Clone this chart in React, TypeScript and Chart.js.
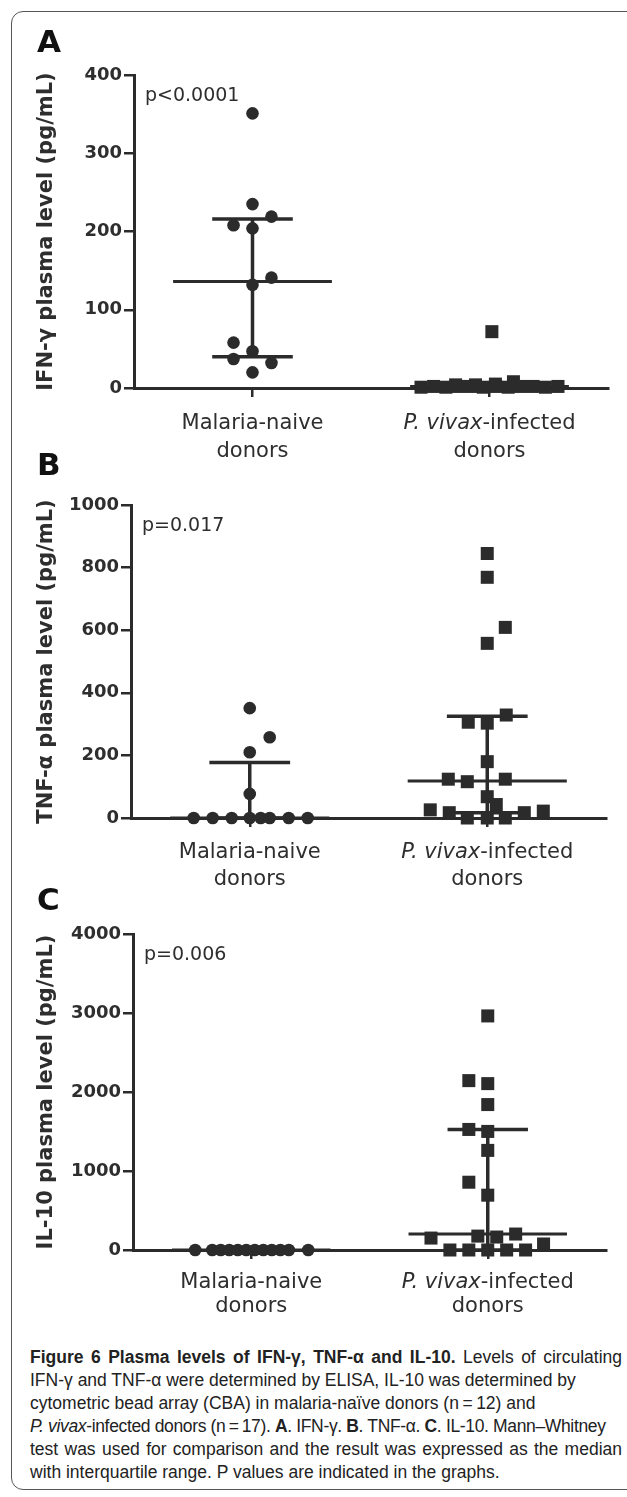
import React, { useEffect, useRef } from 'react';
import { Chart, registerables } from 'chart.js';

Chart.register(...registerables);

const INK = '#2b2b2b';
const TEXT = '#2e2e2e';
const FONT = '"DejaVu Sans", Verdana, sans-serif';

// ---- shared categories ----
const categories = ['Malaria-naive', 'P. vivax-infected'];
const categoryItalicPrefix = ['', 'P. vivax'];
const categorySecondLine = 'donors';

// ---- Panel A: IFN-γ ----
const ifnTicks = [0, 100, 200, 300, 400];
const ifnNaive = [351, 235, 219, 208, 204, 141, 132, 58, 47, 37, 32, 20];
const ifnNaiveX = [0, 0, 0.08, -0.08, 0, 0.08, 0, -0.08, 0, -0.08, 0.08, 0];
const ifnInfected = [72, 8, 4, 4, 5, 1, 2, 1, 2, 2, 1, 2, 1, 2, 2, 1, 2];
const ifnInfectedX = [0.01, 0.101, -0.143, -0.059, 0.025, -0.289, -0.236, -0.184, -0.131, -0.079, -0.026, 0.026, 0.079, 0.131, 0.184, 0.236, 0.289];
const ifnMedian = [136, 2];
const ifnQ1 = [40, 1];
const ifnQ3 = [216, 4];

// ---- Panel B: TNF-α ----
const tnfTicks = [0, 200, 400, 600, 800, 1000];
const tnfNaive = [351, 258, 210, 77, 0, 0, 0, 0, 0, 0, 0, 0];
const tnfNaiveX = [0, 0.084, 0, 0, -0.236, -0.156, -0.076, 0, 0.046, 0.084, 0.164, 0.244];
const tnfInfected = [845, 769, 609, 558, 329, 306, 303, 180, 124, 116, 124, 68, 43, 26, 17, 0, 0, 0, 17, 22];
const tnfInfectedX = [0, 0, 0.076, 0, 0.08, -0.08, 0, 0, -0.164, -0.084, 0.076, 0, 0.038, -0.24, -0.16, -0.084, 0, 0.076, 0.156, 0.236];
const tnfMedian = [0, 118];
const tnfQ1 = [0, 17];
const tnfQ3 = [177, 325];

// ---- Panel C: IL-10 ----
const il10Ticks = [0, 1000, 2000, 3000, 4000];
const il10Naive = [0, 0, 0, 0, 0, 0, 0, 0, 0, 0, 0, 0];
const il10NaiveX = [-0.237, -0.165, -0.129, -0.093, -0.057, -0.021, 0.015, 0.051, 0.087, 0.123, 0.159, 0.241];
const il10Infected = [2963, 2144, 2106, 1841, 1526, 1501, 1261, 858, 694, 202, 176, 164, 151, 76, 0, 0, 0, 0, 0];
const il10InfectedX = [0, -0.08, 0, 0, -0.08, 0, 0, -0.08, 0, 0.118, -0.042, 0.038, -0.24, 0.236, -0.16, -0.08, 0, 0.08, 0.16];
const il10Median = [0, 202];
const il10Q1 = [0, 0];
const il10Q3 = [0, 1526];

type PanelSpec = {
  letter: string;
  title: string;
  pText: string;
  ticks: number[];
  naive: number[];
  naiveX: number[];
  infected: number[];
  infectedX: number[];
  median: number[];
  q1: number[];
  q3: number[];
  top: number;
  height: number;
  padTop: number;
  axisLeft: number;
  padRight: number;
  xHeight: number;
  letterBaseline: number;
  labelBaselines: [number, number];
};

const panels: PanelSpec[] = [
  {
    letter: 'A', title: 'IFN-γ plasma level (pg/mL)', pText: 'p<0.0001',
    ticks: ifnTicks, naive: ifnNaive, naiveX: ifnNaiveX, infected: ifnInfected, infectedX: ifnInfectedX,
    median: ifnMedian, q1: ifnQ1, q3: ifnQ3,
    top: 0, height: 470, padTop: 75, axisLeft: 134, padRight: 19, xHeight: 82,
    letterBaseline: 52, labelBaselines: [41, 69],
  },
  {
    letter: 'B', title: 'TNF-α plasma level (pg/mL)', pText: 'p=0.017',
    ticks: tnfTicks, naive: tnfNaive, naiveX: tnfNaiveX, infected: tnfInfected, infectedX: tnfInfectedX,
    median: tnfMedian, q1: tnfQ1, q3: tnfQ3,
    top: 440, height: 460, padTop: 65, axisLeft: 131, padRight: 21, xHeight: 82,
    letterBaseline: 35, labelBaselines: [39.5, 67],
  },
  {
    letter: 'C', title: 'IL-10 plasma level (pg/mL)', pText: 'p=0.006',
    ticks: il10Ticks, naive: il10Naive, naiveX: il10NaiveX, infected: il10Infected, infectedX: il10InfectedX,
    median: il10Median, q1: il10Q1, q3: il10Q3,
    top: 880, height: 440, padTop: 54, axisLeft: 133, padRight: 21, xHeight: 70,
    letterBaseline: 30, labelBaselines: [38, 62],
  },
];

const MED_HALF = 0.335;
const IQR_HALF = 0.17;

function lineDataset(points: { x: number; y: number }[], width: number) {
  return {
    data: points,
    showLine: true,
    borderColor: INK,
    borderWidth: width,
    borderCapStyle: 'butt',
    pointRadius: 0,
    pointHoverRadius: 0,
    clip: false,
    order: 2,
  };
}

function buildDatasets(s: PanelSpec) {
  const groups = [
    { v: s.naive, x: s.naiveX, style: 'circle', r: 6.3 },
    { v: s.infected, x: s.infectedX, style: 'rect', r: 9.2 },
  ];
  const ds: any[] = [];
  groups.forEach((g, i) => {
    ds.push({
      data: g.v.map((y, k) => ({ x: i + g.x[k], y })),
      pointStyle: g.style,
      pointRadius: g.r,
      pointHoverRadius: g.r,
      backgroundColor: INK,
      borderColor: INK,
      borderWidth: 0,
      clip: false,
      order: 1,
    });
    ds.push(lineDataset([{ x: i - MED_HALF, y: s.median[i] }, { x: i + MED_HALF, y: s.median[i] }], 3));
    ds.push(lineDataset([{ x: i - IQR_HALF, y: s.q1[i] }, { x: i + IQR_HALF, y: s.q1[i] }], 3.5));
    ds.push(lineDataset([{ x: i - IQR_HALF, y: s.q3[i] }, { x: i + IQR_HALF, y: s.q3[i] }], 3.5));
    ds.push(lineDataset([{ x: i, y: s.q1[i] }, { x: i, y: s.q3[i] }], 3.5));
  });
  return ds;
}

function drawCategoryLabel(ctx: CanvasRenderingContext2D, label: string, italicPrefix: string, cx: number, y: number) {
  const segs: { text: string; italic: boolean }[] = [];
  if (italicPrefix && label.startsWith(italicPrefix)) {
    segs.push({ text: italicPrefix, italic: true });
    segs.push({ text: label.slice(italicPrefix.length), italic: false });
  } else {
    segs.push({ text: label, italic: false });
  }
  const fonts = segs.map((sg) => `${sg.italic ? 'italic ' : ''}21px ${FONT}`);
  const widths = segs.map((sg, i) => {
    ctx.font = fonts[i];
    return ctx.measureText(sg.text).width;
  });
  let x = cx - widths.reduce((a, b) => a + b, 0) / 2;
  ctx.textAlign = 'left';
  segs.forEach((sg, i) => {
    ctx.font = fonts[i];
    ctx.fillText(sg.text, x, y);
    x += widths[i];
  });
}

function panelTextPlugin(s: PanelSpec) {
  return {
    id: 'panelText' + s.letter,
    afterDraw(chart: any) {
      const { ctx, chartArea, scales } = chart;
      const xs = scales.x;
      ctx.save();
      ctx.fillStyle = TEXT;
      ctx.textBaseline = 'alphabetic';
      categories.forEach((c, i) => {
        const cx = xs.getPixelForValue(i);
        drawCategoryLabel(ctx, c, categoryItalicPrefix[i], cx, chartArea.bottom + s.labelBaselines[0]);
        ctx.font = `21px ${FONT}`;
        ctx.textAlign = 'center';
        ctx.fillText(categorySecondLine, cx, chartArea.bottom + s.labelBaselines[1]);
      });
      ctx.textAlign = 'left';
      ctx.fillStyle = '#111';
      ctx.font = `bold 31px ${FONT}`;
      ctx.fillText(s.letter, 37, s.letterBaseline);
      ctx.fillStyle = TEXT;
      ctx.font = `19px ${FONT}`;
      ctx.fillText(s.pText, chartArea.left + 11, chartArea.top + 25.5);
      ctx.restore();
    },
  };
}

function buildConfig(s: PanelSpec): any {
  const ymax = s.ticks[s.ticks.length - 1];
  return {
    type: 'scatter',
    data: { datasets: buildDatasets(s) },
    options: {
      animation: false,
      responsive: false,
      events: [],
      layout: { padding: { top: s.padTop, right: s.padRight, left: 0, bottom: 0 } },
      plugins: { legend: { display: false }, tooltip: { enabled: false } },
      scales: {
        x: {
          type: 'linear',
          min: -0.5,
          max: 1.5,
          afterBuildTicks: (sc: any) => {
            sc.ticks = categories.map((_, i) => ({ value: i }));
          },
          afterFit: (sc: any) => {
            sc.height = s.xHeight;
          },
          ticks: { display: false },
          grid: { drawOnChartArea: false, drawTicks: true, tickLength: 9, color: INK, lineWidth: 2.5 },
          border: { display: true, color: INK, width: 3 },
        },
        y: {
          type: 'linear',
          min: 0,
          max: ymax,
          afterBuildTicks: (sc: any) => {
            sc.ticks = s.ticks.map((v) => ({ value: v }));
          },
          afterFit: (sc: any) => {
            sc.width = s.axisLeft;
          },
          ticks: {
            font: { family: FONT, weight: 'bold', size: 18 },
            color: TEXT,
            padding: 2,
            callback: (v: any) => String(v),
          },
          grid: { drawOnChartArea: false, drawTicks: true, tickLength: 10, color: INK, lineWidth: 2.5 },
          border: { display: true, color: INK, width: 3 },
          title: {
            display: true,
            text: s.title,
            font: { family: FONT, weight: 'bold', size: 21 },
            color: TEXT,
            padding: { top: 34.4, bottom: 0 },
          },
        },
      },
    },
    plugins: [panelTextPlugin(s)],
  };
}

function Panel({ spec }: { spec: PanelSpec }) {
  const ref = useRef<HTMLCanvasElement>(null);
  useEffect(() => {
    const canvas = ref.current;
    if (!canvas) return;
    const chart = new Chart(canvas, buildConfig(spec));
    return () => chart.destroy();
  }, [spec]);
  return (
    <canvas
      ref={ref}
      width={627}
      height={spec.height}
      style={{ position: 'absolute', left: 0, top: spec.top, width: 627, height: spec.height }}
    />
  );
}

const fullLine: React.CSSProperties = {
  display: 'block',
  width: 592,
  textAlign: 'justify',
  textAlignLast: 'justify',
  whiteSpace: 'nowrap',
};
const plainLine: React.CSSProperties = { display: 'block', whiteSpace: 'nowrap' };

export default function App() {
  return (
    <div
      style={{
        position: 'absolute',
        left: 0,
        top: 0,
        width: 627,
        height: 1497,
        overflow: 'hidden',
        background: '#fff',
      }}
    >
      <div
        style={{
          position: 'absolute',
          left: 11,
          top: 11,
          width: 700,
          height: 1479,
          border: '1.5px solid #555',
          borderRadius: 12,
          boxSizing: 'border-box',
        }}
      />
      {panels.map((p) => (
        <Panel key={p.letter} spec={p} />
      ))}
      <div
        style={{
          position: 'absolute',
          left: 30,
          top: 1346,
          fontFamily: '"Liberation Sans", Arial, sans-serif',
          fontSize: 17.5,
          lineHeight: '23px',
          color: '#222',
        }}
      >
        <span style={{ ...fullLine, whiteSpace: 'normal' }}>
          <b>Figure 6 Plasma levels of IFN-γ, TNF-α and IL-10.</b> Levels of circulating
        </span>
        <span style={plainLine}>IFN-γ and TNF-α were determined by ELISA, IL-10 was determined by</span>
        <span style={plainLine}>cytometric bead array (CBA) in malaria-naïve donors (n&#8201;=&#8201;12) and</span>
        <span style={{ ...plainLine, letterSpacing: '-0.35px' }}>
          <i>P. vivax</i>-infected donors (n&#8201;=&#8201;17). <b>A</b>. IFN-γ. <b>B</b>. TNF-α. <b>C</b>. IL-10. Mann–Whitney
        </span>
        <span style={{ ...fullLine, whiteSpace: 'normal' }}>
          test was used for comparison and the result was expressed as the median
        </span>
        <span style={plainLine}>with interquartile range. P values are indicated in the graphs.</span>
      </div>
    </div>
  );
}
